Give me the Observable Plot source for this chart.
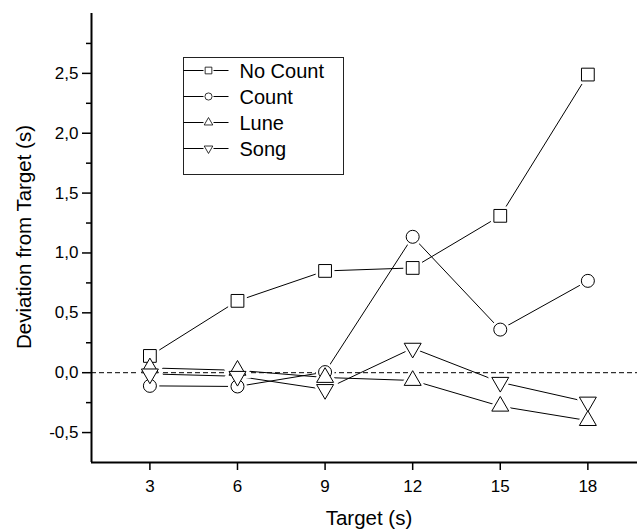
<!DOCTYPE html>
<html><head><meta charset="utf-8">
<script src="https://cdn.jsdelivr.net/npm/d3@7"></script>
<script src="https://cdn.jsdelivr.net/npm/@observablehq/plot@0.6"></script>
<style>
body{margin:0;background:#fff;}
#wrap{position:relative;width:637px;height:529px;font-family:"Liberation Sans",Arial,sans-serif;}
#wrap svg.overlay{position:absolute;left:0;top:0;pointer-events:none;}
</style></head><body><div id="wrap"></div>
<script>
// ---- data ----
const targets = [3, 6, 9, 12, 15, 18];
const noCount = [0.14, 0.60, 0.85, 0.875, 1.31, 2.49];
const count = [-0.11, -0.115, 0.005, 1.135, 0.36, 0.767];
const lune = [0.04, 0.02, -0.04, -0.065, -0.28, -0.40];
const song = [-0.01, -0.03, -0.14, 0.205, -0.08, -0.245];
const seriesNames = ["No Count", "Count", "Lune", "Song"];
const xTicks = [3, 6, 9, 12, 15, 18];
const yMajorTicks = [-0.5, 0, 0.5, 1, 1.5, 2, 2.5];
const yMinorTicks = [-0.25, 0.25, 0.75, 1.25, 1.75, 2.25, 2.75];
const xDomain = [1, 19.7];
const yDomain = [-0.75, 3];
const xTitle = "Target (s)";
const yTitle = "Deviation from Target (s)";

// ---- symbols ----
const triDown = {draw(ctx, size) {
  const y = -Math.sqrt(size / (Math.sqrt(3) * 3));
  ctx.moveTo(0, -y * 2);
  ctx.lineTo(-Math.sqrt(3) * y, y);
  ctx.lineTo(Math.sqrt(3) * y, y);
  ctx.closePath();
}};
const seriesValues = [noCount, count, lune, song];
const symbols = ["square", "circle", "triangle", triDown];
const d3symbols = [d3.symbolSquare, d3.symbolCircle, d3.symbolTriangle, triDown];
const radii = [7.2, 6.5, 6.3, 6.3];
const legendSizes = [45, 40, 32, 32];

const series = seriesNames.map((name, k) => ({
  name, symbol: symbols[k], r: radii[k],
  rows: targets.map((t, i) => ({x: t, y: seriesValues[k][i]}))
}));

const fmt = v => d3.format(".1f")(v).replace("\u2212", "-").replace(".", ",");

const chart = Plot.plot({
  width: 637, height: 529,
  marginLeft: 91, marginRight: 0, marginTop: 13, marginBottom: 67,
  x: {domain: xDomain},
  y: {domain: yDomain},
  style: {fontFamily: "'Liberation Sans', Arial, sans-serif", color: "black", background: "white"},
  marks: [
    Plot.ruleY([0], {stroke: "black", strokeWidth: 1, strokeDasharray: "5,3"}),
    ...series.map(s => Plot.line(s.rows, {x: "x", y: "y", stroke: "black", strokeWidth: 1})),
    ...series.map(s => Plot.dot(s.rows, {x: "x", y: "y", symbol: s.symbol, r: s.r, fill: "white", stroke: "white", strokeWidth: 6})),
    ...series.map(s => Plot.dot(s.rows, {x: "x", y: "y", symbol: s.symbol, r: s.r, fill: "white", stroke: "black", strokeWidth: 1})),
    Plot.axisX({ticks: xTicks, tickSize: 8, tickPadding: 9, fontSize: 17, strokeWidth: 1.5, label: null, tickFormat: d => String(d)}),
    Plot.axisY({ticks: yMajorTicks, tickSize: 9, tickPadding: 4, fontSize: 17, strokeWidth: 1.5, label: null, tickFormat: fmt}),
    Plot.axisY({ticks: yMinorTicks, tickSize: 5, strokeWidth: 1.5, label: null, tickFormat: () => ""}),
    Plot.ruleX([xDomain[0]], {stroke: "black", strokeWidth: 2}),
    Plot.ruleY([yDomain[0]], {stroke: "black", strokeWidth: 2})
  ]
});
const wrap = document.getElementById("wrap");
wrap.appendChild(chart);

// ---- overlay: titles + legend ----
const ov = d3.select(wrap).append("svg").attr("class", "overlay")
  .attr("width", 637).attr("height", 529)
  .style("font-family", "'Liberation Sans', Arial, sans-serif");
ov.append("text").attr("x", 369).attr("y", 525).attr("text-anchor", "middle")
  .attr("font-size", 20.5).text(xTitle);
ov.append("text").attr("transform", "translate(31,237) rotate(-90)").attr("text-anchor", "middle")
  .attr("font-size", 20.5).text(yTitle);

const lg = ov.append("g").attr("transform", "translate(183.5,57.5)");
lg.append("rect").attr("width", 160).attr("height", 117).attr("fill", "white")
  .attr("stroke", "#222").attr("stroke-width", 1);
seriesNames.forEach((name, k) => {
  const cy = 13 + k * 26;
  const g = lg.append("g").attr("transform", `translate(0,${cy})`);
  g.append("line").attr("x1", 0).attr("x2", 20).attr("stroke", "black");
  g.append("line").attr("x1", 30).attr("x2", 45).attr("stroke", "black");
  g.append("path").attr("transform", "translate(25,0)")
    .attr("d", d3.symbol(d3symbols[k], legendSizes[k])())
    .attr("fill", "white").attr("stroke", "black").attr("stroke-width", 0.8);
  g.append("text").attr("x", 56).attr("y", 0).attr("dy", "0.36em")
    .attr("font-size", 20).text(name);
});
</script>
</body></html>
